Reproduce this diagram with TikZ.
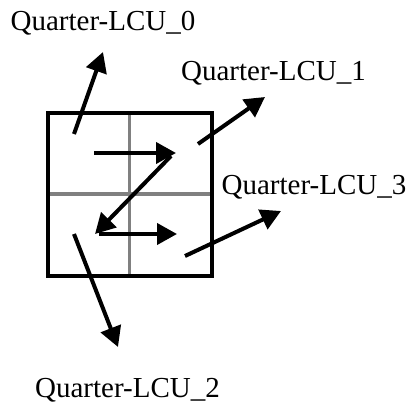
\documentclass[tikz,border=0pt]{standalone}
\usepackage{fontspec}
\setmainfont{Liberation Serif}
\usetikzlibrary{arrows.meta}
\begin{document}
\begin{tikzpicture}[x=1pt,y=-1pt,
  lbl/.style={inner sep=0pt,font=\fontsize{29}{34}\selectfont},
  arr/.style={line width=4pt,-{Triangle[length=20pt,width=21pt]}},
  outer/.style={line width=4.2pt,line join=miter},
  inner/.style={line width=3.2pt,draw=gray}]
\useasboundingbox (0,0) rectangle (407,407);
% grid
\draw[inner] (129.5,113) -- (129.5,276);
\draw[inner] (48,194) -- (212,194);
\draw[outer] (48,113) rectangle (212,276);
% labels
\node[lbl] (q0) at (103,23) {Quarter-LCU\_0};
\node[lbl] (q1) at (273.5,73) {Quarter-LCU\_1};
\node[lbl] (q3) at (314,187) {Quarter-LCU\_3};
\node[lbl] (q2) at (127.5,390) {Quarter-LCU\_2};
% arrow endpoints
\coordinate (a0s) at (74,134);  \coordinate (a0e) at (103,52);
\coordinate (a1s) at (198,144); \coordinate (a1e) at (265,97);
\coordinate (a3s) at (185,256); \coordinate (a3e) at (281,211);
\coordinate (a2s) at (74,234);  \coordinate (a2e) at (118,347);
\coordinate (z1) at (94,153);   \coordinate (z2) at (176,153);
\coordinate (z3) at (95,234);   \coordinate (z4) at (177,234);
\draw[arr] (a0s) -- (a0e);
\draw[arr] (a1s) -- (a1e);
\draw[arr] (a3s) -- (a3e);
\draw[arr] (a2s) -- (a2e);
\draw[arr] (z1) -- (z2);
\draw[arr] (171,156) -- (z3);
\draw[arr] (99,234) -- (z4);
\end{tikzpicture}
\end{document}
